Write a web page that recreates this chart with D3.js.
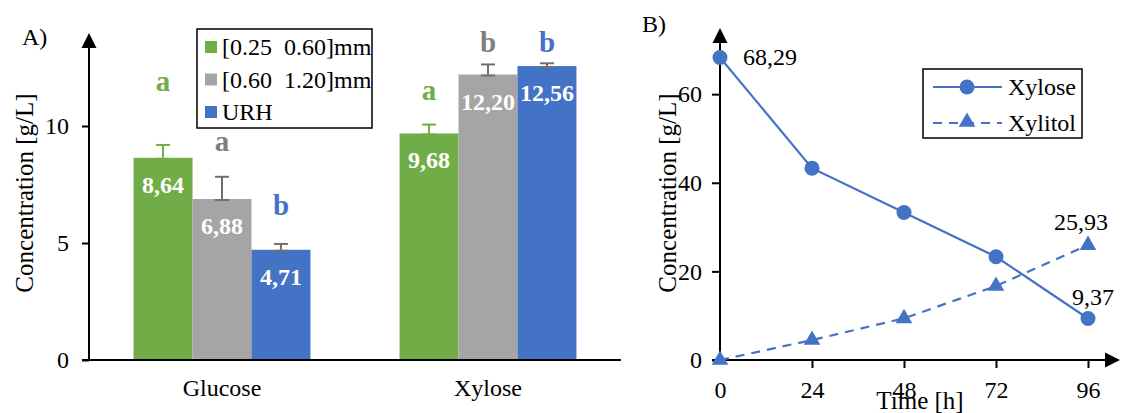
<!DOCTYPE html>
<html>
<head>
<meta charset="utf-8">
<script src="https://cdn.jsdelivr.net/npm/d3@7"></script>
<style>
  body { margin: 0; background: #fff; }
  text { font-family: "Liberation Serif", "Times New Roman", serif; }
</style>
</head>
<body>
<svg id="chart" width="1121" height="413"></svg>
<script>
// panel A data
const categories = ["Glucose", "Xylose"];
const seriesNames = ["[0.25  0.60]mm", "[0.60  1.20]mm", "URH"];
const fine = [8.64, 9.68];
const coarse = [6.88, 12.20];
const urh = [4.71, 12.56];
const fineErr = [0.55, 0.38];
const coarseErr = [0.95, 0.43];
const urhErr = [0.25, 0.12];
const fineLetters = ["a", "a"];
const coarseLetters = ["a", "b"];
const urhLetters = ["b", "b"];
// heights (in g/L) where the significance letters sit
const fineLetterAt = [11.5, 11.1];
const coarseLetterAt = [8.93, 13.17];
const urhLetterAt = [6.2, 13.17];
const barTicks = [0, 5, 10];

// panel B data
const hours = [0, 24, 48, 72, 96];
const xylose = [68.29, 43.3, 33.3, 23.3, 9.37];
const xylitol = [0, 4.5, 9.4, 16.7, 25.93];
const lineYTicks = [0, 20, 40, 60];

const green = "#70AD47", gray = "#A5A5A5", blue = "#4472C4";
const seriesColors = [green, gray, blue];
const errColors = [green, "#6f6f6f", "#6f6f6f"];
const letterColors = [green, "#7f7f7f", blue];

const svg = d3.select("#chart");
const fmt = v => d3.format(".2f")(v).replace(".", ",");

function arrowUp(g, x, y) {
    g.append("path").attr("d", `M${x},${y} L${x - 7.5},${y + 15} L${x + 7.5},${y + 15} Z`).attr("fill", "#000");
}
function arrowRight(g, x, y) {
    g.append("path").attr("d", `M${x},${y} L${x - 15},${y - 7.5} L${x - 15},${y + 7.5} Z`).attr("fill", "#000");
}

// ---------------- Panel A ----------------
(function drawBars() {
    const left = 89, right = 621, bottom = 360;
    const y = d3.scaleLinear().domain([0, 14]).range([bottom, 32.4]);
    const x0 = d3.scaleBand().domain(categories).range([left, right])
        .paddingInner(0.335).paddingOuter(0.1675);
    const x1 = d3.scaleBand().domain(d3.range(3)).range([0, x0.bandwidth()]);

    const g = svg.append("g");
    const rows = [
        { vals: fine, err: fineErr, letters: fineLetters, at: fineLetterAt },
        { vals: coarse, err: coarseErr, letters: coarseLetters, at: coarseLetterAt },
        { vals: urh, err: urhErr, letters: urhLetters, at: urhLetterAt }
    ];

    rows.forEach((row, si) => {
        const data = categories.map((c, i) => ({ c, v: row.vals[i], e: row.err[i], l: row.letters[i], at: row.at[i] }));
        const cx = d => x0(d.c) + x1(si) + x1.bandwidth() / 2;

        g.selectAll(null).data(data).enter().append("rect")
            .attr("x", d => x0(d.c) + x1(si))
            .attr("width", x1.bandwidth())
            .attr("y", d => y(d.v))
            .attr("height", d => y(0) - y(d.v))
            .attr("fill", seriesColors[si]);

        // error bars (plus direction)
        const eb = g.selectAll(null).data(data).enter().append("g")
            .attr("stroke", errColors[si]).attr("stroke-width", 2);
        eb.append("line").attr("x1", cx).attr("x2", cx).attr("y1", d => y(d.v)).attr("y2", d => y(d.v + d.e));
        eb.append("line").attr("x1", d => cx(d) - 7).attr("x2", d => cx(d) + 7).attr("y1", d => y(d.v + d.e)).attr("y2", d => y(d.v + d.e));
        eb.append("line").attr("x1", d => cx(d) - 7).attr("x2", d => cx(d) + 7).attr("y1", d => y(d.v) + 1).attr("y2", d => y(d.v) + 1);

        // value labels inside bars
        g.selectAll(null).data(data).enter().append("text")
            .attr("x", cx).attr("y", d => y(d.v) + 35)
            .attr("text-anchor", "middle").attr("fill", "#fff")
            .style("font-size", "24px").style("font-weight", "bold")
            .text(d => fmt(d.v));

        // significance letters
        g.selectAll(null).data(data).enter().append("text")
            .attr("x", cx).attr("y", d => y(d.at))
            .attr("text-anchor", "middle").attr("fill", letterColors[si])
            .style("font-size", "29px").style("font-weight", "bold")
            .text(d => d.l);
    });

    // axes
    const yAxis = g.append("g").attr("transform", `translate(${left},0)`)
        .call(d3.axisLeft(y).tickValues(barTicks).tickSize(7).tickPadding(13));
    yAxis.select(".domain").remove();
    yAxis.selectAll("line").attr("stroke", "#000").attr("stroke-width", 2);
    yAxis.selectAll("text").style("font-size", "24px").attr("fill", "#000")
        .style("font-family", "'Liberation Serif', 'Times New Roman', serif");

    g.append("line").attr("x1", left).attr("x2", left).attr("y1", bottom + 1).attr("y2", 46)
        .attr("stroke", "#000").attr("stroke-width", 2);
    arrowUp(g, left, 33);
    g.append("line").attr("x1", left - 7).attr("x2", right).attr("y1", bottom).attr("y2", bottom)
        .attr("stroke", "#000").attr("stroke-width", 2);

    g.selectAll(null).data(categories).enter().append("text")
        .attr("x", d => x0(d) + x0.bandwidth() / 2).attr("y", 396)
        .attr("text-anchor", "middle").style("font-size", "24px")
        .text(d => d);

    g.append("text").attr("transform", "translate(33,193) rotate(-90)")
        .attr("text-anchor", "middle").style("font-size", "25px").text("Concentration [g/L]");
    g.append("text").attr("x", 22).attr("y", 45).style("font-size", "24px").text("A)");

    // legend
    const lg = g.append("g");
    lg.append("rect").attr("x", 197).attr("y", 29).attr("width", 175).attr("height", 99)
        .attr("fill", "#fff").attr("stroke", "#000").attr("stroke-width", 1.5);
    seriesNames.forEach((s, i) => {
        const ly = 47 + i * 32.5;
        lg.append("rect").attr("x", 205).attr("y", ly - 6).attr("width", 12).attr("height", 12).attr("fill", seriesColors[i]);
        lg.append("text").attr("x", 222).attr("y", ly + 8).style("font-size", "24px")
            .style("white-space", "pre").text(s);
    });
})();

// ---------------- Panel B ----------------
(function drawLines() {
    const left = 720, bottom = 360;
    const x = d3.scaleLinear().domain([0, 96]).range([left, 1088]);
    const y = d3.scaleLinear().domain([0, 75]).range([bottom, 27.7]);
    const g = svg.append("g");

    const yAxis = g.append("g").attr("transform", `translate(${left},0)`)
        .call(d3.axisLeft(y).tickValues(lineYTicks).tickSize(8).tickPadding(10));
    yAxis.select(".domain").remove();
    yAxis.selectAll("line").attr("stroke", "#000").attr("stroke-width", 2);
    yAxis.selectAll("text").style("font-size", "24px").attr("fill", "#000")
        .style("font-family", "'Liberation Serif', 'Times New Roman', serif");

    const xAxis = g.append("g").attr("transform", `translate(0,${bottom})`)
        .call(d3.axisBottom(x).tickValues(hours).tickSize(8).tickPadding(13));
    xAxis.select(".domain").remove();
    xAxis.selectAll("line").attr("stroke", "#000").attr("stroke-width", 2);
    xAxis.selectAll(".tick").filter(d => d === 0).select("line").remove();
    xAxis.selectAll("text").style("font-size", "24px").attr("fill", "#000")
        .style("font-family", "'Liberation Serif', 'Times New Roman', serif");

    g.append("line").attr("x1", left).attr("x2", left).attr("y1", bottom + 1).attr("y2", 41)
        .attr("stroke", "#000").attr("stroke-width", 2);
    arrowUp(g, left, 28);
    g.append("line").attr("x1", left - 8).attr("x2", 1106).attr("y1", bottom).attr("y2", bottom)
        .attr("stroke", "#000").attr("stroke-width", 2);
    arrowRight(g, 1120, bottom);

    const line = d3.line().x(d => x(d[0])).y(d => y(d[1]));
    const xyl = hours.map((h, i) => [h, xylose[i]]);
    const xit = hours.map((h, i) => [h, xylitol[i]]);

    g.append("path").datum(xit).attr("d", line).attr("fill", "none")
        .attr("stroke", blue).attr("stroke-width", 2.2).attr("stroke-dasharray", "9,7");
    g.append("path").datum(xyl).attr("d", line).attr("fill", "none")
        .attr("stroke", blue).attr("stroke-width", 2.2);

    g.selectAll(null).data(xyl).enter().append("circle")
        .attr("cx", d => x(d[0])).attr("cy", d => y(d[1])).attr("r", 7.5).attr("fill", blue);
    const tri = d3.symbol(d3.symbolTriangle, 120);
    g.selectAll(null).data(xit).enter().append("path")
        .attr("d", tri).attr("transform", d => `translate(${x(d[0])},${y(d[1])})`).attr("fill", blue);

    // data labels at ends
    const first = xyl[0], last = xyl[xyl.length - 1], lastX = xit[xit.length - 1];
    g.append("text").attr("x", x(first[0]) + 23).attr("y", y(first[1]) + 8).style("font-size", "24px").text(fmt(first[1]));
    g.append("text").attr("x", x(last[0]) + 5).attr("y", y(last[1]) - 13).attr("text-anchor", "middle").style("font-size", "24px").text(fmt(last[1]));
    g.append("text").attr("x", x(lastX[0]) - 7).attr("y", y(lastX[1]) - 15).attr("text-anchor", "middle").style("font-size", "24px").text(fmt(lastX[1]));

    g.append("text").attr("transform", "translate(676,193) rotate(-90)")
        .attr("text-anchor", "middle").style("font-size", "25px").text("Concentration [g/L]");
    g.append("text").attr("x", 920).attr("y", 409).attr("text-anchor", "middle")
        .style("font-size", "25px").text("Time [h]");
    g.append("text").attr("x", 642).attr("y", 32).style("font-size", "24px").text("B)");

    // legend
    const lg = g.append("g");
    lg.append("rect").attr("x", 923).attr("y", 69).attr("width", 159).attr("height", 69)
        .attr("fill", "#fff").attr("stroke", "#000").attr("stroke-width", 1.5);
    lg.append("line").attr("x1", 933).attr("x2", 1002).attr("y1", 87).attr("y2", 87)
        .attr("stroke", blue).attr("stroke-width", 2.2);
    lg.append("circle").attr("cx", 967).attr("cy", 87).attr("r", 7.5).attr("fill", blue);
    lg.append("line").attr("x1", 933).attr("x2", 1002).attr("y1", 123).attr("y2", 123)
        .attr("stroke", blue).attr("stroke-width", 2.2).attr("stroke-dasharray", "9,7");
    lg.append("path").attr("d", tri).attr("transform", "translate(967,122)").attr("fill", blue);
    lg.append("text").attr("x", 1008).attr("y", 95).style("font-size", "24px").text("Xylose");
    lg.append("text").attr("x", 1008).attr("y", 131).style("font-size", "24px").text("Xylitol");
})();
</script>
</body>
</html>
